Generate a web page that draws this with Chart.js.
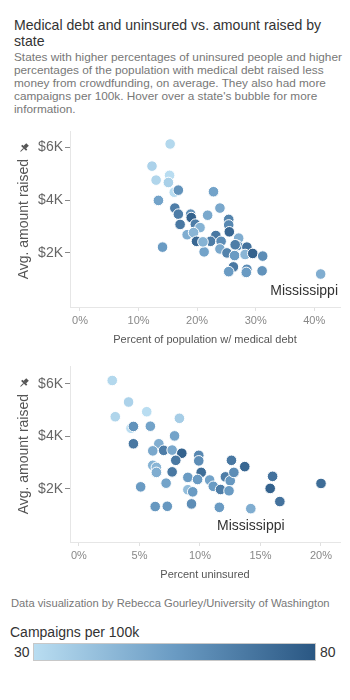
<!DOCTYPE html>
<html>
<head>
<meta charset="utf-8">
<script src="https://cdn.jsdelivr.net/npm/chart.js@4"></script>
<style>
  body { margin: 0; width: 350px; height: 700px; background: #fff; position: relative; overflow: hidden;
         font-family: "Liberation Sans", sans-serif; }
  .abs { position: absolute; white-space: nowrap; }
  #title { left: 14px; top: 17px; font-size: 14.1px; line-height: 16px; color: #333; }
  #sub { left: 14px; top: 51px; font-size: 11.8px; line-height: 12.9px; color: #777; }
  #c1 { left: 0; top: 125px; }
  #c2 { left: 0; top: 360px; }
  #credit { left: 11px; top: 597px; font-size: 11.2px; color: #777; }
  #legTitle { left: 10px; top: 624px; font-size: 14px; color: #333; }
  #bar { left: 33px; top: 643px; width: 281px; height: 16px; border: 1px solid #c8c8c8; }
  #lo { left: 14px; top: 644px; font-size: 14px; color: #333; }
  #hi { left: 320px; top: 644px; font-size: 14px; color: #333; }
</style>
</head>
<body>
<div id="title" class="abs">Medical debt and uninsured vs. amount raised by<br>state</div>
<div id="sub" class="abs">States with higher percentages of uninsured people and higher<br>percentages of the population with medical debt raised less<br>money from crowdfunding, on average. They also had more<br>campaigns per 100k. Hover over a state's bubble for more<br>information.</div>
<canvas id="c1" class="abs" width="350" height="232"></canvas>
<canvas id="c2" class="abs" width="350" height="232"></canvas>
<div id="credit" class="abs">Data visualization by Rebecca Gourley/University of Washington</div>
<div id="legTitle" class="abs">Campaigns per 100k</div>
<div id="lo" class="abs">30</div>
<div id="bar" class="abs"></div>
<div id="hi" class="abs">80</div>
<script>
// panel 1: percent of population with medical debt
const debtX = [15.4, 12.3, 13.0, 15.3, 15.1, 16.1, 16.8, 13.4, 22.8, 23.9, 16.2, 16.8, 18.9, 19.0, 17.1, 21.8,
  19.7, 20.5, 25.4, 25.4, 25.5, 18.3, 19.4, 23.2, 27.1, 19.9, 22.3, 24.1, 23.9, 21.2, 14.1, 26.9, 28.5, 25.1,
  26.4, 28.2, 29.5, 31.2, 26.2, 25.4, 28.5, 28.4, 31.1, 26.5, 21.0, 41.1];
const debtY = [6130, 5290, 4760, 4940, 4670, 4300, 4380, 3990, 4320, 3700, 3700, 3470, 3470, 3340, 3080, 3430,
  3090, 2960, 3270, 3060, 2800, 2690, 2770, 2660, 2560, 2440, 2440, 2440, 2150, 2040, 2220, 2280, 2220, 2000,
  1900, 1940, 1980, 1880, 1470, 1290, 1380, 1260, 1320, 2310, 2420, 1200];
const debtC = [32, 34, 33, 30, 35, 30, 58, 52, 52, 50, 66, 66, 60, 76, 68, 50, 66, 46, 64, 62, 74, 48, 45, 68,
  48, 74, 66, 60, 50, 52, 55, 60, 70, 64, 55, 45, 76, 60, 68, 55, 60, 55, 58, 66, 46, 48];
const debtNames = { 45: "Mississippi" };

// panel 2: percent uninsured
const uninsX = [2.75, 4.1, 3.0, 5.6, 8.3, 4.3, 4.5, 5.9, 7.9, 4.5, 6.6, 6.1, 7.0, 7.7, 8.5, 8.0, 6.1, 6.4, 6.4,
  7.7, 7.2, 5.1, 9.0, 9.0, 9.4, 6.3, 7.3, 9.3, 9.9, 9.9, 10.1, 9.8, 10.8, 11.1, 11.7, 12.1, 12.5, 12.4, 12.8,
  12.6, 13.7, 16.0, 15.8, 16.6, 20.0, 11.6, 14.2];
const uninsY = [6130, 5310, 4750, 4940, 4690, 4310, 4380, 4390, 4020, 3720, 3720, 3450, 3470, 3480, 3360, 3090,
  2900, 2820, 2630, 2650, 2220, 2080, 2440, 1970, 1890, 1330, 1340, 1430, 3280, 3070, 2630, 2360, 2340, 2100,
  1980, 2460, 2310, 1930, 2630, 3090, 2850, 2480, 2020, 1520, 2210, 1300, 1250];
const uninsC = [32, 34, 33, 30, 36, 30, 58, 52, 52, 68, 48, 50, 66, 50, 76, 68, 46, 45, 48, 68, 52, 55, 55, 42,
  55, 56, 56, 60, 62, 60, 72, 55, 52, 55, 66, 66, 56, 55, 60, 68, 74, 70, 76, 70, 72, 55, 48];
const uninsNames = { 46: "Mississippi" };

const yTicks = [2000, 4000, 6000];
const debtTicks = [0, 10, 20, 30, 40];
const uninsTicks = [0, 5, 10, 15, 20];
const colorRange = [30, 80];
const colorStops = ["#b9ddf1", "#6a9bc3", "#2a5783"];

const FONT = "'Liberation Sans', sans-serif";

function hexRgb(h) {
  return [1, 3, 5].map((i) => parseInt(h.slice(i, i + 2), 16));
}

function colorFor(v) {
  let t = (v - colorRange[0]) / (colorRange[1] - colorRange[0]);
  t = Math.max(0, Math.min(1, t)) * (colorStops.length - 1);
  const i = Math.min(Math.floor(t), colorStops.length - 2);
  const a = hexRgb(colorStops[i]), b = hexRgb(colorStops[i + 1]);
  const f = t - i;
  const c = a.map((x, k) => Math.round(x + (b[k] - x) * f));
  return "rgb(" + c.join(",") + ")";
}

document.getElementById("bar").style.background =
  "linear-gradient(to right, " + colorStops.join(", ") + ")";

// little pushpin next to the y title, plus state labels under their bubble
const extras = {
  id: "extras",
  afterDatasetsDraw(chart, args, opts) {
    const ctx = chart.ctx;
    const area = chart.chartArea;
    const meta = chart.getDatasetMeta(0);
    ctx.save();
    ctx.font = "14px " + FONT;
    ctx.fillStyle = "#333";
    ctx.textBaseline = "middle";
    Object.keys(opts.names).forEach((k) => {
      const pt = meta.data[+k];
      const txt = opts.names[k];
      const w = ctx.measureText(txt).width;
      let left = pt.x - w / 2;
      if (left + w > area.right - 2) left = area.right - 2 - w;
      ctx.textAlign = "left";
      ctx.fillText(txt, left, pt.y + 17);
    });

    // pin
    const tw = ctx.measureText("Avg. amount raised").width;
    const cy = (area.top + area.bottom) / 2 - tw / 2 - 11;
    ctx.translate(24, cy);
    ctx.rotate(Math.PI / 4);
    ctx.fillStyle = "#555";
    ctx.strokeStyle = "#555";
    ctx.fillRect(-1.8, -5, 3.6, 4);
    ctx.fillRect(-3.5, -1.2, 7, 1.8);
    ctx.lineWidth = 1;
    ctx.beginPath();
    ctx.moveTo(0, 0.5);
    ctx.lineTo(0, 5);
    ctx.stroke();
    ctx.restore();
  },
};

function makeChart(id, xs, ys, cs, names, xTicks, xMin, xMax, yMin, yMax, xTitle, padTop) {
  const points = xs.map((x, i) => ({ x: x, y: ys[i] }));
  new Chart(document.getElementById(id), {
    type: "scatter",
    data: {
      datasets: [
        {
          data: points,
          pointRadius: 5.3,
          pointHoverRadius: 5.3,
          pointBackgroundColor: cs.map(colorFor),
          pointBorderColor: "#ffffff",
          pointBorderWidth: 1,
        },
      ],
    },
    plugins: [extras],
    options: {
      responsive: false,
      animation: false,
      layout: { padding: { top: padTop, right: 10, left: 0, bottom: 0 } },
      plugins: {
        legend: { display: false },
        tooltip: { enabled: false },
        extras: { names: names },
      },
      scales: {
        x: {
          type: "linear",
          min: xMin,
          max: xMax,
          afterBuildTicks: (s) => { s.ticks = xTicks.map((v) => ({ value: v })); },
          afterFit: (s) => { s.height = 50; },
          ticks: {
            callback: (v) => v + "%",
            color: "#888",
            font: { family: FONT, size: 11 },
            padding: 3,
            maxRotation: 0,
            autoSkip: false,
          },
          grid: { display: true, drawOnChartArea: false, drawTicks: true, tickLength: 4, color: "#e0e0e0" },
          border: { display: true, color: "#e6e6e6" },
          title: {
            display: true,
            text: xTitle,
            color: "#555",
            font: { family: FONT, size: 11 },
            padding: { top: 0, bottom: 10 },
          },
        },
        y: {
          type: "linear",
          min: yMin,
          max: yMax,
          afterBuildTicks: (s) => { s.ticks = yTicks.map((v) => ({ value: v })); },
          afterFit: (s) => { s.width = 70; },
          ticks: {
            callback: (v) => "$" + v / 1000 + "K",
            color: "#666",
            font: { family: FONT, size: 14, lineHeight: 0.3 },
            padding: 2,
          },
          grid: { display: true, drawOnChartArea: false, drawTicks: true, tickLength: 5, color: "#888" },
          border: { display: true, color: "#e6e6e6" },
          title: {
            display: true,
            text: "Avg. amount raised",
            color: "#555",
            font: { family: FONT, size: 14 },
            padding: { top: 16, bottom: 0 },
          },
        },
      },
    },
  });
}

makeChart("c1", debtX, debtY, debtC, debtNames, debtTicks, -1.7, 44.4, -50, 6610,
  "Percent of population w/ medical debt", 3);
makeChart("c2", uninsX, uninsY, uninsC, uninsNames, uninsTicks, -0.74, 21.57, -20, 6670,
  "Percent uninsured", 5);
</script>
</body>
</html>
